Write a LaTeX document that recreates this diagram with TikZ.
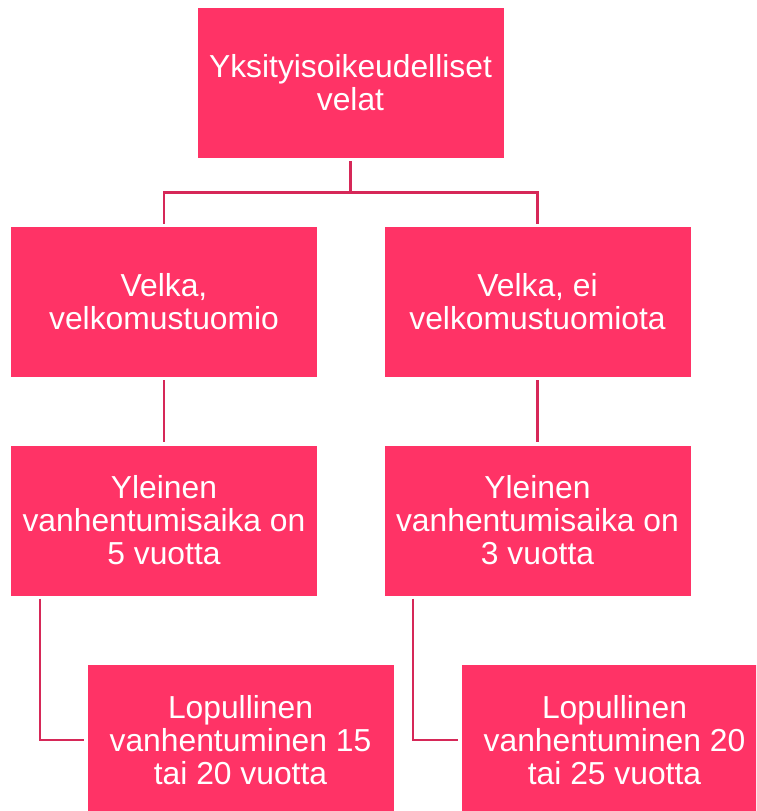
\documentclass[tikz,border=0pt]{standalone}
\usepackage{fontspec}
\setmainfont{Liberation Sans}
\usetikzlibrary{positioning, calc}
\definecolor{boxpink}{RGB}{255,51,102}
\definecolor{linkpink}{RGB}{214,40,88}

\tikzset{
    debtbox/.style={rectangle, fill=boxpink, text=white, minimum width=306pt, minimum height=150pt,
        inner sep=0pt, align=center, font=\fontsize{31.8}{33}\selectfont},
    link/.style={draw=linkpink, line width=2.2pt, shorten >=3pt, shorten <=3pt}
}

\begin{document}
\begin{tikzpicture}[x=1pt, y=-1pt]

        % Page frame
        \useasboundingbox (0,0) rectangle (756,811);
        \clip (0,0) rectangle (756,811);

        % Top box
        \node[debtbox] (top) at (350.5,83) {Yksityisoikeudelliset\\velat};

        % Second row
        \node[debtbox] (velka) at (164,302) {Velka,\\velkomustuomio};
        \node[debtbox] (eivelka) at (537.5,302) {Velka, ei\\velkomustuomiota};

        % Third row
        \node[debtbox] (yleinen5) at (164,520.5) {Yleinen\\vanhentumisaika on\\5 vuotta};
        \node[debtbox] (yleinen3) at (537.5,520.5) {Yleinen\\vanhentumisaika on\\3 vuotta};

        % Bottom row (shifted right)
        \node[debtbox] (lopullinen1) at (240.5,740) {Lopullinen\\vanhentuminen 15\\tai 20 vuotta};
        \node[debtbox] (lopullinen2) at (614.5,740) {Lopullinen\\vanhentuminen 20\\tai 25 vuotta};

        % Branch from the top box
        \coordinate (fork) at ($(top.south)!0.5!(top.south|-velka.north)$);
        \draw[link, shorten >=0pt] (top.south) -- (fork);
        \draw[link] (velka.north) |- (fork) -| (eivelka.north);

        % Straight links
        \draw[link] (velka.south) -- (yleinen5.north);
        \draw[link] (eivelka.south) -- (yleinen3.north);

        % Elbow links to the bottom boxes
        \draw[link] ($(yleinen5.south west)+(29,0)$) |- (lopullinen1.west);
        \draw[link] ($(yleinen3.south west)+(29,0)$) |- (lopullinen2.west);

    \end{tikzpicture}
\end{document}
